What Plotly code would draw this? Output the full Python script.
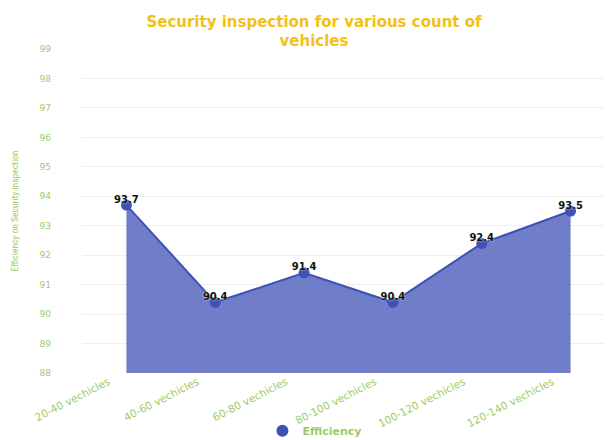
import plotly.graph_objects as go

categories = ["20-40 vechicles", "40-60 vechicles", "60-80 vechicles",
              "80-100 vechicles", "100-120 vechicles", "120-140 vechicles"]
efficiency = [93.7, 90.4, 91.4, 90.4, 92.4, 93.5]
y_ticks = [88, 89, 90, 91, 92, 93, 94, 95, 96, 97, 98, 99]

green = "#9ccc65"
fig = go.Figure()
fig.add_trace(go.Scatter(
    x=categories, y=efficiency, name="Efficiency", showlegend=False,
    mode="lines+markers",
    fill="tozeroy", fillcolor="rgba(92,107,192,0.88)",
    line=dict(color="#3f51b5", width=2),
    marker=dict(color="#3f51b5", size=11),
    hoverinfo="skip",
))
fig.add_trace(go.Scatter(
    x=categories, y=efficiency, mode="text", showlegend=False,
    text=[str(v) for v in efficiency], textposition="top center",
    textfont=dict(family="DejaVu Sans", size=10, color="#111111", weight="bold",
                  shadow="0px 0px 2px white"),
))
fig.add_trace(go.Scatter(
    x=[None], y=[None], name="Efficiency", mode="markers",
    marker=dict(color="#3f51b5", size=12), showlegend=True,
))
fig.update_layout(
    width=612, height=440,
    margin=dict(l=74, r=5, t=41, b=75, autoexpand=False),
    paper_bgcolor="white", plot_bgcolor="white",
    title=dict(text="Security inspection for various count of<br>vehicles",
               x=0.5, xanchor="center", yref="container", y=0.957, yanchor="middle",
               automargin=False,
               font=dict(family="DejaVu Sans", size=15, color="#f2c118", weight="bold")),
    xaxis=dict(range=[-0.5, 5.5], showgrid=False, tickangle=-27, automargin=False,
               tickfont=dict(family="DejaVu Sans", size=10.5, color=green),
               ticklabelshift=-18,
               showline=False, ticks=""),
    yaxis=dict(range=[88, 99], tickvals=y_ticks, gridcolor="#eeeeee", automargin=False,
               tickfont=dict(family="DejaVu Sans", size=9, color=green),
               zeroline=False, ticklabelstandoff=30,
               title=dict(text="Efficiency on Security inspection", standoff=19,
                          font=dict(family="Liberation Sans Narrow, Roboto Condensed, sans-serif",
                                    size=9.5, color=green))),
    showlegend=True,
    legend=dict(orientation="h", x=0.437, xanchor="center", y=-0.178, yanchor="middle",
                bgcolor="rgba(0,0,0,0)",
                font=dict(family="DejaVu Sans", size=11, color=green, weight="bold")),
)
fig.write_html("out.html")
